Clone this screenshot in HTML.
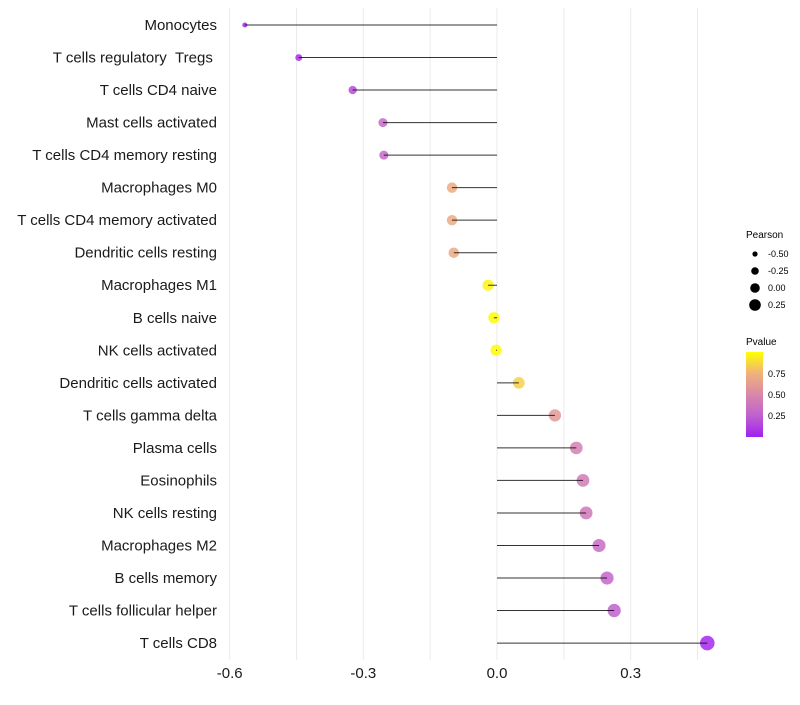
<!DOCTYPE html>
<html><head><meta charset="utf-8"><style>
body{margin:0;background:#fff;font-family:"Liberation Sans",sans-serif}
</style></head><body>
<svg id="c" width="800" height="700" xmlns="http://www.w3.org/2000/svg">
<defs><linearGradient id="pg" x1="0" y1="1" x2="0" y2="0">
<stop offset="0" stop-color="#a020f0"/><stop offset="0.25" stop-color="#c060d0"/><stop offset="0.5" stop-color="#d888a8"/><stop offset="0.75" stop-color="#f0b27a"/><stop offset="1" stop-color="#ffff00"/></linearGradient></defs>
<g id="grid"></g><g id="marks"></g><g id="ylab"></g><g id="xlab"></g>
<g font-size="9" fill="#000">
<text x="746" y="238" font-size="10">Pearson</text>
<circle cx="755" cy="254" r="2.6"/><text x="768" y="257">-0.50</text>
<circle cx="755" cy="271" r="3.8"/><text x="768" y="274">-0.25</text>
<circle cx="755" cy="288" r="4.8"/><text x="768" y="291">0.00</text>
<circle cx="755" cy="305" r="5.8"/><text x="768" y="308">0.25</text>
</g>
<g font-size="9">
<text x="746" y="345" font-size="10">Pvalue</text>
<rect x="746" y="352" width="17" height="85" fill="url(#pg)"/>
<text x="768" y="377">0.75</text><text x="768" y="398">0.50</text><text x="768" y="419">0.25</text>
</g>
</svg>
<script>
const categories=["Monocytes","T cells regulatory\u00a0\u00a0Tregs\u00a0","T cells CD4 naive","Mast cells activated","T cells CD4 memory resting","Macrophages M0","T cells CD4 memory activated","Dendritic cells resting","Macrophages M1","B cells naive","NK cells activated","Dendritic cells activated","T cells gamma delta","Plasma cells","Eosinophils","NK cells resting","Macrophages M2","B cells memory","T cells follicular helper","T cells CD8"];
const pearson=[-0.566,-0.445,-0.324,-0.256,-0.254,-0.101,-0.101,-0.097,-0.020,-0.007,-0.002,0.049,0.130,0.178,0.193,0.200,0.229,0.247,0.263,0.472];
const pvalue=[0.03,0.06,0.18,0.3,0.3,0.7,0.7,0.7,0.97,0.99,0.99,0.85,0.6,0.45,0.42,0.4,0.32,0.28,0.25,0.03];
const xTicks=[-0.6,-0.3,0.0,0.3];
const xTickLabels=["-0.6","-0.3","0.0","0.3"];
const NS="http://www.w3.org/2000/svg";
const x=v=>497+v*445.5;
const y=i=>25+i*32.53;
const r=v=>Math.sqrt(Math.max(1,32+45*v));
function col(p){const st=[[0,[160,32,240]],[0.25,[192,96,208]],[0.5,[216,136,168]],[0.75,[240,178,122]],[1,[255,255,0]]];
for(let k=1;k<st.length;k++){if(p<=st[k][0]){const t=(p-st[k-1][0])/(st[k][0]-st[k-1][0]);const a=st[k-1][1],b=st[k][1];return `rgb(${a.map((c,j)=>Math.round(c+(b[j]-c)*t)).join(',')})`;}}return 'rgb(255,255,0)';}
function mk(t,at,p){const e=document.createElementNS(NS,t);for(const k in at)e.setAttribute(k,at[k]);p.appendChild(e);return e;}
const g=document.getElementById('grid');
for(let v=-0.6;v<0.5;v+=0.15){const l=mk('line',{x1:x(v),x2:x(v),y1:8,y2:660,stroke:'#ebebeb','stroke-width':1},g);

}
const m=document.getElementById('marks'),yl=document.getElementById('ylab');
categories.forEach((c,i)=>{
const ci=mk('circle',{cx:x(pearson[i]),cy:y(i),r:r(pearson[i]),fill:col(pvalue[i]),'fill-opacity':0.85},m);


const ln=mk('line',{x1:x(0),x2:x(pearson[i]),y1:y(i),y2:y(i),stroke:'#000','stroke-width':1,'stroke-opacity':0.8},m);


const t=mk('text',{x:217,y:y(i)+5,'text-anchor':'end','font-size':15,fill:'#1a1a1a'},yl);t.textContent=c;


});
const xl=document.getElementById('xlab');
xTicks.forEach((v,i)=>{const t=mk('text',{x:x(v),y:678,'text-anchor':'middle','font-size':15,fill:'#1a1a1a'},xl);t.textContent=xTickLabels[i];

});
</script>
</body></html>
